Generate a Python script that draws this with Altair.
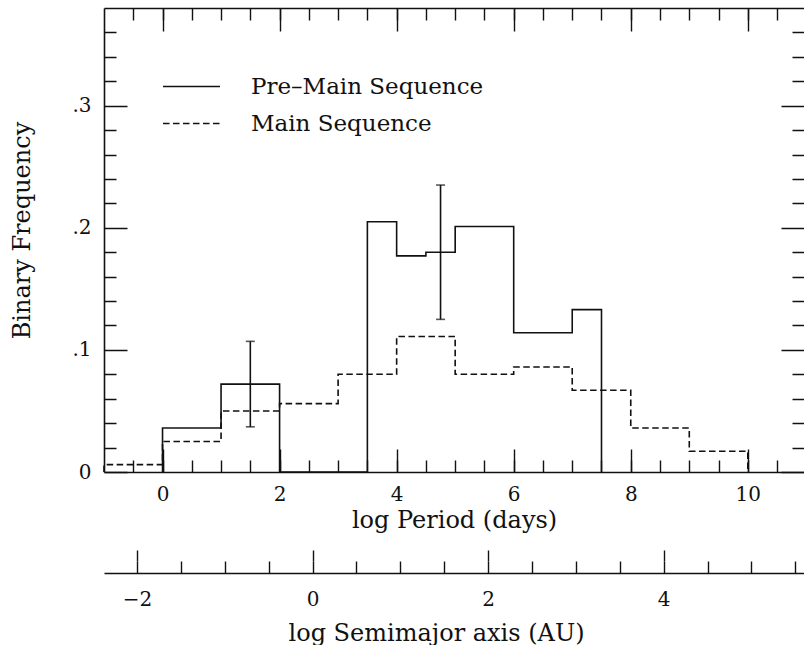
import math
import altair as alt
import pandas as pd

# ---------------- data ----------------
pms_edges = [0, 1, 2, 3.5, 4, 4.5, 5, 6, 7, 7.5]
pms_freq = [0.036, 0.072, 0.0, 0.205, 0.177, 0.180, 0.201, 0.114, 0.133]

ms_edges = [-1, 0, 1, 2, 3, 4, 5, 6, 7, 8, 9, 10]
ms_freq = [0.006, 0.025, 0.050, 0.056, 0.080, 0.111, 0.080, 0.086, 0.067, 0.036, 0.017]

err_logp = [1.5, 4.75]
err_low = [0.037, 0.125]
err_high = [0.107, 0.235]

series_names = ["Pre–Main Sequence", "Main Sequence"]

x_labels = [0, 2, 4, 6, 8, 10]
x_minor = [-0.5, 0, 0.5, 1, 1.5, 2, 2.5, 3, 3.5, 4, 4.5, 5, 5.5, 6, 6.5,
           7, 7.5, 8, 8.5, 9, 9.5, 10, 10.5]
y_labels = [0, 0.1, 0.2, 0.3]
y_minor = [0.02, 0.04, 0.06, 0.08, 0.12, 0.14, 0.16, 0.18, 0.22, 0.24,
           0.26, 0.28, 0.32, 0.34, 0.36]
a_labels = [-2, 0, 2, 4]
a_minor = [-2, -1.5, -1, -0.5, 0, 0.5, 1, 1.5, 2, 2.5, 3, 3.5, 4, 4.5, 5, 5.5]

x_domain = [-1, 10.96]
y_domain = [0, 0.38]
# Kepler's third law (1 solar mass): log a[AU] = 2/3 (log P[d] - log 365.25)
a_domain = [(2.0 / 3.0) * (p - math.log10(365.25)) for p in x_domain]

# ---------------- tables ----------------
def step_rows(name, edges, freq):
    pts = [(edges[0], 0.0)] + list(zip(edges[:-1], freq)) + [(edges[-1], 0.0)]
    return [{"logP": x, "freq": f, "series": name, "idx": i}
            for i, (x, f) in enumerate(pts)]

steps = pd.DataFrame(step_rows(series_names[0], pms_edges, pms_freq)
                     + step_rows(series_names[1], ms_edges, ms_freq))
errs = pd.DataFrame({"logP": err_logp, "low": err_low, "high": err_high})
sec = pd.DataFrame({"a": a_labels, "row": [0.5] * len(a_labels)})

# ---------------- style ----------------
W, H = 700, 464
MAJ, MIN = 23, 12
INK = "#111111"
FONT = "DejaVu Serif"
LW = 1.6

xs = alt.Scale(domain=x_domain, nice=False, zero=False)
ys = alt.Scale(domain=y_domain, nice=False, zero=False)

lines = alt.Chart(steps).mark_line(
    interpolate="step-after", strokeWidth=LW, color=INK, strokeCap="butt"
).encode(
    x=alt.X("logP:Q", scale=xs, axis=alt.Axis(
        orient="bottom", values=x_labels, title="log Period (days)",
        ticks=False, grid=True, gridDash=[MAJ, H - 2 * MAJ, MAJ],
        labelPadding=12, titlePadding=4, domain=True)),
    y=alt.Y("freq:Q", scale=ys, axis=alt.Axis(
        orient="left", values=y_labels, title="Binary Frequency",
        ticks=False, grid=True, gridDash=[MAJ, W - 2 * MAJ, MAJ],
        labelPadding=13, titlePadding=37, titleY=222, domain=True,
        labelExpr="datum.value == 0 ? '0' : replace(format(datum.value, '.1f'), '0.', '.')")),
    strokeDash=alt.StrokeDash("series:N", scale=alt.Scale(
        domain=series_names, range=[[1, 0], [6.5, 3.5]]),
        legend=alt.Legend(
            title=None, orient="none", legendX=76, legendY=67,
            symbolType="M-3,0H3", symbolSize=361, symbolStrokeWidth=LW,
            symbolStrokeColor=INK, labelFont=FONT, labelFontSize=23,
            labelColor=INK, labelOffset=48, labelLimit=0, rowPadding=13,
            padding=0)),
    order=alt.Order("idx:Q"),
)

bars = alt.Chart(errs).mark_rule(color=INK, strokeWidth=LW).encode(
    x=alt.X("logP:Q", scale=xs, axis=alt.Axis(
        orient="top", values=x_minor, labels=False, ticks=False, title=None,
        domain=True, grid=True, gridDash=[MIN, H - 2 * MIN, MIN])),
    y=alt.Y("low:Q", scale=ys, axis=alt.Axis(
        orient="right", values=y_minor, labels=False, ticks=False, title=None,
        domain=False, grid=True, gridDash=[MIN, W - 2 * MIN, MIN])),
    y2="high:Q",
)

caps = alt.Chart(errs).transform_fold(
    ["low", "high"], as_=["end", "val"]
).mark_tick(orient="horizontal", size=9, thickness=LW, color=INK).encode(
    x=alt.X("logP:Q", scale=xs, axis=None),
    y=alt.Y("val:Q", scale=ys, axis=None),
)

main = alt.layer(lines, bars, caps).resolve_axis(
    x="independent", y="independent"
).properties(width=W, height=H)

a_scale = alt.Scale(domain=a_domain, nice=False, zero=False)
row_scale = alt.Scale(domain=[0, 1], nice=False, zero=False)
sec_bottom = alt.Chart(sec).mark_point(opacity=0).encode(
    x=alt.X("a:Q", scale=a_scale, axis=alt.Axis(
        orient="bottom", values=a_minor, title="log Semimajor axis (AU)",
        labelExpr="datum.value % 2 == 0 ? format(datum.value, 'd') : ''",
        ticks=False, grid=True, domain=True, labelPadding=16,
        titlePadding=12, titleX=332)),
    y=alt.Y("row:Q", scale=row_scale, axis=None),
)
sec_top = alt.Chart(sec).mark_point(opacity=0).encode(
    x=alt.X("a:Q", scale=a_scale, axis=alt.Axis(
        orient="top", values=a_labels, labels=False, ticks=True,
        tickSize=MAJ - MIN, domain=False, grid=False, title=None)),
    y=alt.Y("row:Q", scale=row_scale, axis=None),
)
secondary = alt.layer(sec_bottom, sec_top).resolve_axis(
    x="independent"
).properties(width=W, height=MIN)

chart = alt.vconcat(main, secondary, spacing=17).configure(
    padding={"left": 10, "top": 8, "right": 0, "bottom": 0},
    background="white",
).configure_view(stroke=None).configure_axis(
    labelFont=FONT, titleFont=FONT, labelFontSize=20, titleFontSize=24,
    titleFontWeight="normal", labelColor=INK, titleColor=INK,
    domainColor=INK, domainWidth=LW, gridColor=INK, gridWidth=1.4,
    gridOpacity=1, tickColor=INK, tickWidth=1.4, labelFlush=False,
)

chart.save("out.html", embed_options={"renderer": "svg", "actions": False})
